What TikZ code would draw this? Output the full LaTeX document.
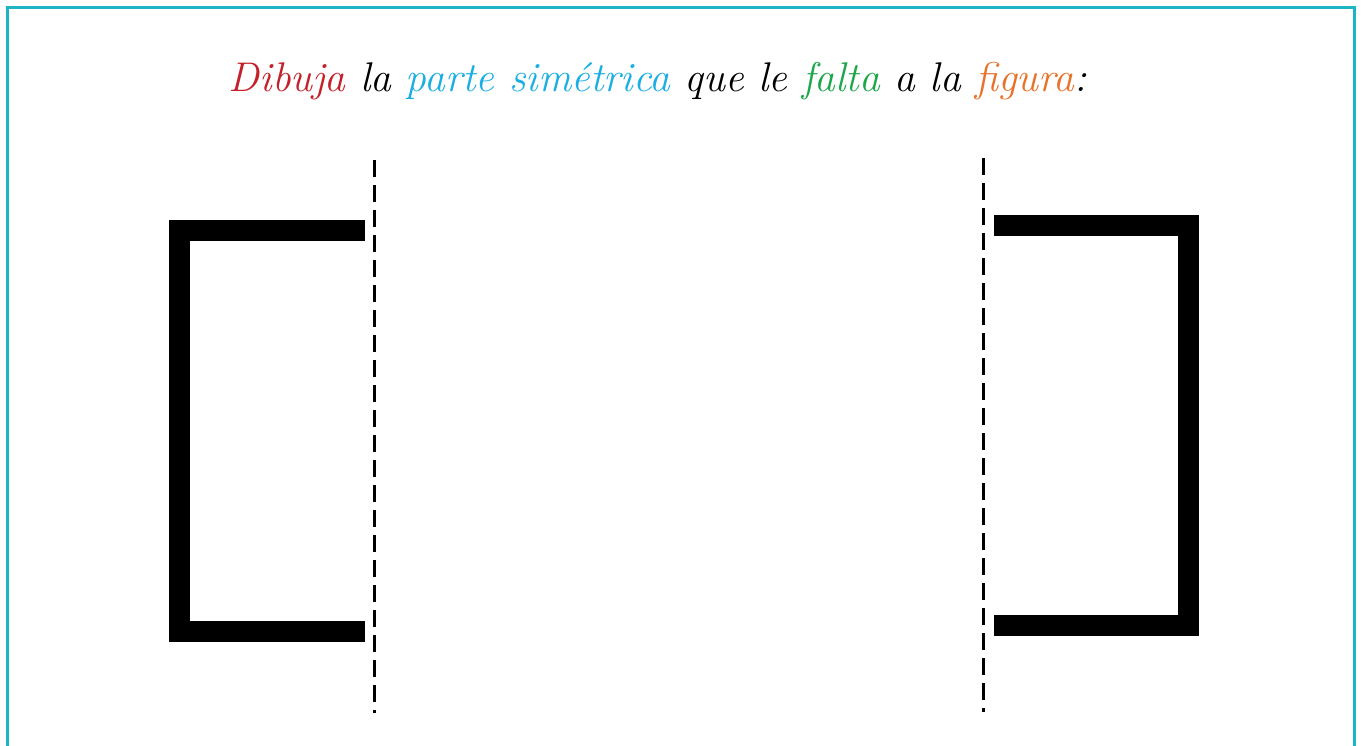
\documentclass[tikz,border=0pt]{standalone}
\usepackage{tikz}
\definecolor{marco}{HTML}{1DB5C4}
\definecolor{rojo}{HTML}{C4202A}
\definecolor{azul}{HTML}{1AAEE3}
\definecolor{verde}{HTML}{1BA84A}
\definecolor{naranja}{HTML}{E8722A}
\tikzset{
  corchete/.style={line width=21pt,miter limit=10,line join=miter,line cap=butt},
  eje/.style={line width=3pt,dash pattern=on 17pt off 8pt},
  titulo/.style={font=\fontsize{41.5}{48}\selectfont\itshape}
}

\begin{document}
\begin{tikzpicture}[x=1pt,y=-1pt]
  \useasboundingbox (0,0) rectangle (1363,746);
  \draw[marco,line width=3pt] (7.5,760) -- (7.5,7.5) -- (1354,7.5) -- (1354,760);
  \node[titulo] (enunciado) at (658,81)
       {\textcolor{rojo}{Dibuja} la \textcolor{azul}{parte sim\'etrica} que le \textcolor{verde}{falta} a la \textcolor{naranja}{figura}:};
  \coordinate (ejeizqA) at (374,160);
  \coordinate (ejeizqB) at (374,713);
  \coordinate (ejederA) at (983,158);
  \coordinate (ejederB) at (983,712);
  \draw[eje] (ejeizqA) -- (ejeizqB);
  \draw[eje] (ejederA) -- (ejederB);
  \draw[corchete] (365,231) -- (179.5,231) -- (179.5,631) -- (365,631);
  \draw[corchete] (994,226) -- (1188,226) -- (1188,625) -- (994,625);
\end{tikzpicture}
\end{document}
